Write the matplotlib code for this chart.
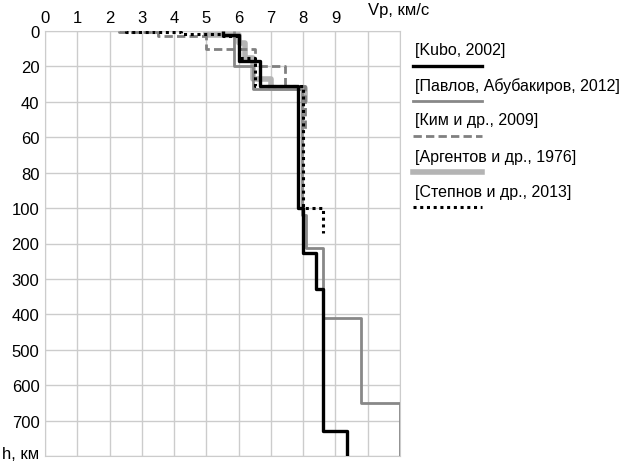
import numpy as np
import matplotlib
matplotlib.use("Agg")
import matplotlib.pyplot as plt
from matplotlib.lines import Line2D
from matplotlib.transforms import ScaledTranslation

plt.rcParams['font.family'] = ['Liberation Sans', 'DejaVu Sans']

# layer boundaries (depth, km) and layer velocities Vp (km/s)
kubo_depth = [0, 2, 17, 31, 100, 227, 328, 730, 800]
kubo_vp = [5.5, 6.0, 6.65, 7.84, 8.0, 8.4, 8.62, 9.37]

pavlov_depth = [0, 20, 33, 120, 213, 410, 650, 800]
pavlov_vp = [5.85, 6.45, 7.95, 8.1, 8.6, 9.78, 11.0]

kim_depth = [0, 0.7, 3, 10, 20, 31, 57]
kim_vp = [2.3, 3.5, 5.0, 6.5, 7.45, 8.05]

argentov_depth = [0, 2, 7, 15, 27, 32, 40]
argentov_vp = [5.0, 6.0, 6.2, 6.45, 7.0, 8.05]

stepnov_depth = [0, 0.5, 1.5, 3, 15, 31, 100, 170]
stepnov_vp = [2.5, 4.2, 5.5, 6.0, 6.5, 8.0, 8.6]

depth_ticks = [0, 20, 40, 60, 80, 100, 200, 300, 400, 500, 600, 700, 800]
depth_labels = ['0', '20', '40', '60', '80', '100', '200', '300', '400',
                '500', '600', '700', 'h, км']
vp_ticks = list(range(10))

labels = ['[Kubo, 2002]', '[Павлов, Абубакиров, 2012]', '[Ким и др., 2009]',
          '[Аргентов и др., 1976]', '[Степнов и др., 2013]']


def profile(depth, vp):
    # vertical step profile: each layer is a vertical segment
    d = np.asarray(depth, dtype=float)
    v = np.repeat(vp, 2)
    y = np.column_stack([d[:-1], d[1:]]).ravel()
    return v, y


def fwd(d):
    d = np.asarray(d, dtype=float)
    return np.where(d <= 100, d / 20.0, 5 + (d - 100) / 100.0)


def inv(u):
    u = np.asarray(u, dtype=float)
    return np.where(u <= 5, u * 20.0, 100 + (u - 5) * 100.0)


fig = plt.figure(figsize=(6.21, 4.64), dpi=100)
ax = fig.add_axes([45 / 621, 7 / 464, 355 / 621, 425 / 464])
ax.set_yscale('function', functions=(fwd, inv))

styles = [
    dict(color='black', lw=2.4, ls='-', zorder=4),
    dict(color='#888888', lw=2.0, ls='-', zorder=3),
    dict(color='#808080', lw=2.0, ls=(0, (3, 1.5)), zorder=3),
    dict(color='#b4b4b4', lw=4.0, ls='-', zorder=2),
    dict(color='black', lw=2.2, ls=(0, (1, 1.2)), zorder=5),
]
series = [(kubo_depth, kubo_vp), (pavlov_depth, pavlov_vp),
          (kim_depth, kim_vp), (argentov_depth, argentov_vp),
          (stepnov_depth, stepnov_vp)]

for (dep, vel), st in zip(series, styles):
    x, y = profile(dep, vel)
    ax.plot(x, y, solid_capstyle='butt', **st)

ax.set_xlim(0, 11)
ax.set_ylim(800, 0)
ax.xaxis.tick_top()
ax.set_xticks(range(12))
ax.set_xticklabels([str(t) for t in vp_ticks] + ['', ''])
ax.set_yticks(depth_ticks)
ax.set_yticklabels(depth_labels)
ax.tick_params(length=0, labelsize=12, pad=4)
ax.grid(True, color='#cccccc', lw=1)
for sp in ax.spines.values():
    sp.set_color('#cccccc')
ax.text(10.0, -8, 'Vp, км/с', fontsize=12, ha='left', va='bottom')

# keep the bottom "h, км" label inside the image
last = ax.get_yticklabels()[-1]
last.set_transform(last.get_transform() + ScaledTranslation(0, 3 / 72, fig.dpi_scale_trans))

# legend: text with a line sample under each entry
text_y = [51, 86, 121, 158, 193]
line_y = [67, 102, 137, 173, 208]
for lab, ty, ly, st in zip(labels, text_y, line_y, styles):
    fig.text(415 / 621, 1 - ty / 464, lab, fontsize=11.5, va='center', ha='left')
    fig.add_artist(Line2D([413 / 621, 482 / 621], [1 - ly / 464] * 2,
                          color=st['color'], lw=st['lw'], ls=st['ls'],
                          transform=fig.transFigure))

fig.savefig('out.png', dpi=100)
